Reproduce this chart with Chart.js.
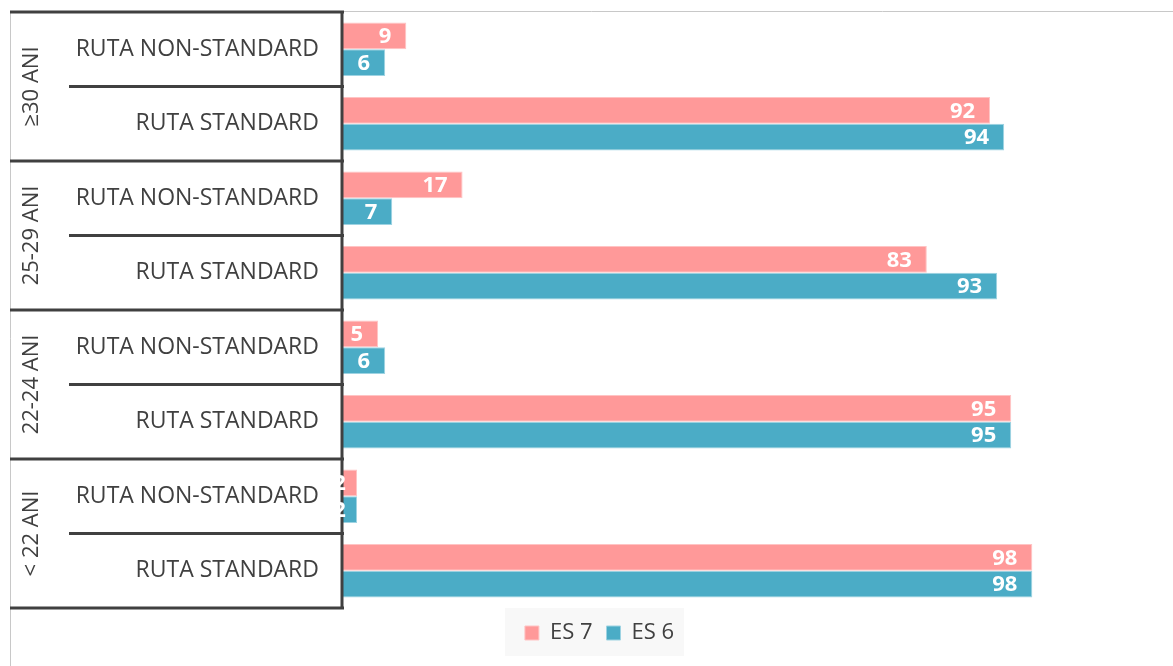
<!DOCTYPE html>
<html>
<head>
<meta charset="utf-8">
<script src="https://cdn.jsdelivr.net/npm/chart.js@4.4.1/dist/chart.umd.min.js"></script>
<style>
  html, body { margin: 0; padding: 0; background: #fff; }
  #wrap { width: 1173px; height: 666px; position: relative; }
</style>
</head>
<body>
<div id="wrap"><canvas id="chart" width="1173" height="666"></canvas></div>
<script>
// categorii (de sus in jos)
var rowLabels = ['RUTA NON-STANDARD', 'RUTA STANDARD', 'RUTA NON-STANDARD', 'RUTA STANDARD',
                 'RUTA NON-STANDARD', 'RUTA STANDARD', 'RUTA NON-STANDARD', 'RUTA STANDARD'];
var groupLabels = ['≥30 ANI', '25-29 ANI', '22-24 ANI', '< 22 ANI'];
var es7 = [9, 92, 17, 83, 5, 95, 2, 98];
var es6 = [6, 94, 7, 93, 6, 95, 2, 98];

var DARK = '#404040';
var FONT = '"Open Sans", "DejaVu Sans", sans-serif';

// tabelul din stanga + rama
var tablePlugin = {
    id: 'tablePlugin',
    beforeDraw: function (chart) {
        var ctx = chart.ctx;
        ctx.save();
        // rama gri
        ctx.strokeStyle = '#C8C8C8';
        ctx.lineWidth = 1;
        ctx.beginPath();
        ctx.moveTo(10.5, 666);
        ctx.lineTo(10.5, 11.5);
        ctx.lineTo(1173, 11.5);
        ctx.stroke();

        // fundal legenda
        var lg = chart.legend;
        if (lg && lg.legendHitBoxes && lg.legendHitBoxes.length) {
            var hb = lg.legendHitBoxes;
            var l = hb[0].left - 20;
            var r = hb[hb.length - 1].left + hb[hb.length - 1].width + 10;
            ctx.fillStyle = '#F8F8F8';
            ctx.fillRect(l, lg.top, r - l, 48);
        }
        ctx.restore();
    },
    afterDraw: function (chart) {
        var ctx = chart.ctx;
        var area = chart.chartArea;
        var y = chart.scales.y;
        var step = y.getPixelForValue(1) - y.getPixelForValue(0);
        ctx.save();
        ctx.strokeStyle = DARK;
        ctx.lineWidth = 3;
        ctx.beginPath();
        for (var g = 0; g <= groupLabels.length; g++) {
            var yy = y.getPixelForValue(g * 2) - step / 2;
            ctx.moveTo(10, yy);
            ctx.lineTo(area.left + 1, yy);
        }
        for (var g2 = 0; g2 < groupLabels.length; g2++) {
            var ym = y.getPixelForValue(g2 * 2) + step / 2;
            ctx.moveTo(69, ym);
            ctx.lineTo(area.left + 1, ym);
        }
        ctx.moveTo(area.left - 1, area.top - 1.5);
        ctx.lineTo(area.left - 1, area.bottom + 1.5);
        ctx.stroke();

        // etichete grupe, rotite
        ctx.fillStyle = DARK;
        ctx.font = '22px ' + FONT;
        ctx.textAlign = 'center';
        ctx.textBaseline = 'middle';
        for (var k = 0; k < groupLabels.length; k++) {
            var yc = (y.getPixelForValue(k * 2) + y.getPixelForValue(k * 2 + 1)) / 2;
            ctx.save();
            ctx.translate(31, yc);
            ctx.rotate(-Math.PI / 2);
            ctx.fillText(groupLabels[k], 0, 1);
            ctx.restore();
        }
        ctx.restore();
    }
};

// valori in interiorul barelor (desenate peste tabel)
var labelPlugin = {
    id: 'labelPlugin',
    afterDraw: function (chart) {
        var ctx = chart.ctx;
        ctx.save();
        ctx.fillStyle = '#FFFFFF';
        ctx.font = 'bold 22px ' + FONT;
        ctx.textAlign = 'right';
        ctx.textBaseline = 'middle';
        chart.data.datasets.forEach(function (ds, i) {
            var meta = chart.getDatasetMeta(i);
            meta.data.forEach(function (bar, j) {
                var pad = Math.min(15, (bar.x - bar.base) * 0.8);
                ctx.fillText(String(ds.data[j]), bar.x - pad, bar.y + 1);
            });
        });
        ctx.restore();
    }
};

var chartData = {
    labels: rowLabels,
    datasets: [{
        label: 'ES 7',
        data: es7,
        backgroundColor: '#FF9999',
        borderColor: '#FFC4C4',
        borderWidth: 1,
        categoryPercentage: 0.72,
        barPercentage: 1.0
    }, {
        label: 'ES 6',
        data: es6,
        backgroundColor: '#4BACC6',
        borderColor: '#9ED3E2',
        borderWidth: 1,
        categoryPercentage: 0.72,
        barPercentage: 1.0
    }]
};

var chartConfig = {
    type: 'bar',
    data: chartData,
    options: {
        indexAxis: 'y',
        responsive: false,
        animation: false,
        layout: {
            padding: { left: 26, top: 12, right: 0, bottom: 12 }
        },
        scales: {
            x: {
                display: false,
                min: 0,
                max: 118
            },
            y: {
                afterFit: function (scale) {
                    scale.width = 317;
                    scale.paddingTop = 0;
                    scale.paddingBottom = 0;
                },
                grid: { display: false, drawTicks: false },
                border: { display: false },
                ticks: {
                    color: DARK,
                    font: { family: FONT, size: 23 },
                    padding: 24,
                    crossAlign: 'near'
                }
            }
        },
        plugins: {
            legend: {
                position: 'bottom',
                labels: {
                    color: DARK,
                    font: { family: FONT, size: 22 },
                    boxWidth: 14,
                    boxHeight: 14,
                    padding: 14
                }
            },
            tooltip: { enabled: false }
        }
    },
    plugins: [tablePlugin, labelPlugin]
};

var chart = new Chart(document.getElementById('chart'), chartConfig);
</script>
</body>
</html>
